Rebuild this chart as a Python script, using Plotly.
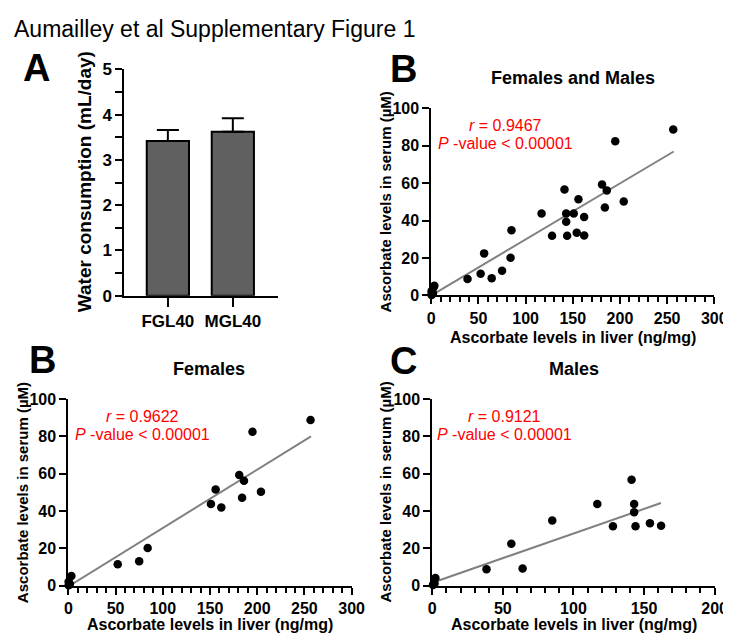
import plotly.graph_objects as go

W, H = 731, 637

# ---------------- data ----------------
water_groups = ["FGL40", "MGL40"]
water_mean = [3.42, 3.62]
water_err = [0.24, 0.30]

female_liver = [256.5, 195.0, 181.0, 186.0, 184.0, 204.0, 156.0, 151.0, 162.0, 84.0, 75.0, 52.3, 3.2, 0.3, 1.6, 0.3]
female_serum = [88.8, 82.5, 59.3, 56.2, 47.1, 50.3, 51.5, 43.8, 41.9, 20.2, 13.2, 11.6, 5.2, 2.2, 1.0, 0.3]

male_liver = [141.2, 116.9, 143.0, 143.0, 128.0, 144.0, 154.2, 162.1, 85.0, 56.0, 64.0, 38.4, 2.2, 1.6, 0.5]
male_serum = [56.7, 43.8, 43.8, 39.4, 31.9, 31.9, 33.5, 32.1, 34.9, 22.5, 9.2, 8.8, 4.2, 1.2, 0.5]

all_liver = female_liver + male_liver
all_serum = female_serum + male_serum

fit_all_x = [1, 257]
fit_all_y = [0.3, 77.0]
fit_f_x = [2, 257]
fit_f_y = [0.3, 80.0]
fit_m_x = [1, 162]
fit_m_y = [1.9, 44.3]

stats_all = ["0.9467", "0.00001"]
stats_f = ["0.9622", "0.00001"]
stats_m = ["0.9121", "0.00001"]

FONT = "Arial, Liberation Sans, sans-serif"


def px_x(x):
    return x / W


def px_y(y):
    return 1 - y / H


fig = go.Figure()

# ---------------- panel A ----------------
fig.add_trace(go.Bar(
    x=water_groups, y=water_mean, width=0.65,
    marker=dict(color="#606060", line=dict(color="black", width=2)),
    error_y=dict(type="data", array=water_err, arrayminus=[0, 0], symmetric=False,
                 color="black", thickness=2, width=11),
    xaxis="x", yaxis="y", showlegend=False,
))

# ---------------- scatter panels ----------------
def add_scatter(xs, ys, fx, fy, xa, ya):
    fig.add_trace(go.Scatter(x=fx, y=fy, mode="lines",
                             line=dict(color="#808080", width=2),
                             xaxis=xa, yaxis=ya, showlegend=False))
    fig.add_trace(go.Scatter(x=xs, y=ys, mode="markers",
                             marker=dict(color="black", size=8.5),
                             cliponaxis=False,
                             xaxis=xa, yaxis=ya, showlegend=False))


add_scatter(all_liver, all_serum, fit_all_x, fit_all_y, "x2", "y2")
add_scatter(female_liver, female_serum, fit_f_x, fit_f_y, "x3", "y3")
add_scatter(male_liver, male_serum, fit_m_x, fit_m_y, "x4", "y4")

tickfont = dict(family=FONT, size=16, color="black", weight="bold")
common = dict(showgrid=False, zeroline=False, showline=True, linecolor="black", linewidth=2,
              ticks="outside", ticklen=7, tickwidth=2, tickcolor="black", tickfont=tickfont)

dom_a_x = [px_x(115), px_x(272)]
dom_a_y = [px_y(287.3), px_y(54)]
dom_b_x = [px_x(429.3), px_x(719)]
dom_top_y = [px_y(287), px_y(94.3)]
dom_bl_x = [px_x(57.7), px_x(347.7)]
dom_br_x = [px_x(430.3), px_x(719.3)]
dom_bot_y = [px_y(586.3), px_y(393.7)]

fig.update_layout(
    width=W, height=H, autosize=False,
    margin=dict(l=0, r=0, t=0, b=0),
    paper_bgcolor="white", plot_bgcolor="white",
    font=dict(family=FONT, color="black"),
    bargap=0.3,
    xaxis=dict(common, domain=dom_a_x, anchor="y", range=[-0.67, 1.69], ticklen=9,
               tickfont=dict(family=FONT, size=17, color="black", weight="bold")),
    yaxis=dict(common, domain=dom_a_y, anchor="x", range=[0, 5], dtick=1,
               tickfont=dict(family=FONT, size=17, color="black", weight="bold"),
               minor=dict(ticks="outside", dtick=0.5, ticklen=7, tickwidth=2, tickcolor="black")),
    xaxis2=dict(common, domain=dom_b_x, anchor="y2", range=[0, 300], dtick=50,
                minor=dict(ticks="outside", dtick=10, ticklen=5, tickwidth=2, tickcolor="black")),
    yaxis2=dict(common, domain=dom_top_y, anchor="x2", range=[0, 100], dtick=20),
    xaxis3=dict(common, domain=dom_bl_x, anchor="y3", range=[0, 300], dtick=50,
                minor=dict(ticks="outside", dtick=10, ticklen=5, tickwidth=2, tickcolor="black")),
    yaxis3=dict(common, domain=dom_bot_y, anchor="x3", range=[0, 100], dtick=20),
    xaxis4=dict(common, domain=dom_br_x, anchor="y4", range=[0, 200], dtick=50,
                minor=dict(ticks="outside", dtick=10, ticklen=5, tickwidth=2, tickcolor="black")),
    yaxis4=dict(common, domain=dom_bot_y, anchor="x4", range=[0, 100], dtick=20),
)

anns = []


def ann(text, x, y, size, bold=False, color="black", angle=0, xanchor="center", yanchor="middle"):
    anns.append(dict(text=text, x=px_x(x), y=px_y(y), xref="paper", yref="paper",
                     showarrow=False, xanchor=xanchor, yanchor=yanchor, textangle=angle,
                     font=dict(family=FONT, size=size, color=color,
                               weight="bold" if bold else "normal")))


# figure title
ann("Aumailley et al Supplementary Figure 1", 0, 12, 23, xanchor="left")

# panel letters
ann("A", 25, 53, 38, bold=True)
ann("B", 401, 54, 38, bold=True)
ann("B", 31, 354, 38, bold=True)
ann("C", 401, 355, 38, bold=True)

# subplot titles
ann("Females and Males", 574, 63, 18, bold=True)
ann("Females", 202, 363, 18, bold=True)
ann("Males", 575, 363, 18, bold=True)

# axis titles
ann("Water consumption (mL/day)", 75, 170, 19, bold=True, angle=-90)
ann("Ascorbate levels in liver (ng/mg)", 574, 330, 16, bold=True)
ann("Ascorbate levels in liver (ng/mg)", 203, 626, 16, bold=True)
ann("Ascorbate levels in liver (ng/mg)", 575, 626, 16, bold=True)
ann("Ascorbate levels in serum (µM)", 382, 191, 15, bold=True, angle=-90)
ann("Ascorbate levels in serum (µM)", 11, 490, 15, bold=True, angle=-90)
ann("Ascorbate levels in serum (µM)", 382, 490, 15, bold=True, angle=-90)

# statistics
red = "#ff0000"
for (r, p), cx, y1, y2 in [(stats_all, 505, 112, 130), (stats_f, 134, 412, 430), (stats_m, 504, 412, 430)]:
    ann(f"<i>r</i> = {r}", cx, y1, 16, color=red)
    ann(f"<i>P</i> -value &lt; {p}", cx, y2, 16, color=red)

fig.update_layout(annotations=anns)

fig.write_html("out.html")
